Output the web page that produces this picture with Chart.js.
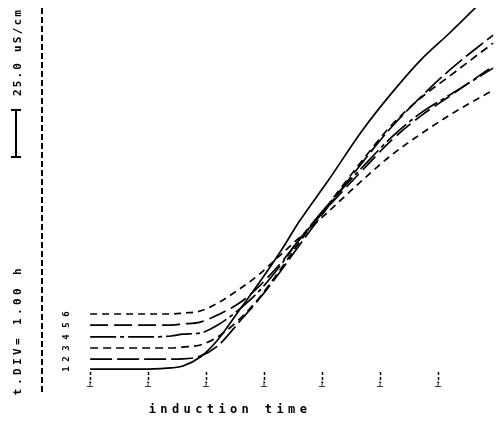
<!DOCTYPE html>
<html>
<head>
<meta charset="utf-8">
<script src="https://cdn.jsdelivr.net/npm/chart.js@4.4.0/dist/chart.umd.min.js"></script>
<style>
    html, body { margin: 0; padding: 0; background: #fff; }
</style>
</head>
<body>
<canvas id="inducao" width="500" height="422"></canvas>
<script>
// tempo em divisoes (1 div = 1.00 h), condutividade em uS/cm (relativa)
const tempos = [0, 1.0, 1.4, 1.6, 1.9, 2.2, 2.6, 2.9, 3.3, 3.6, 4.1, 4.7, 5.2, 5.7, 6.2, 6.95];
const curva1 = [13.8, 13.8, 14.4, 15.4, 20.2, 29.3, 46.3, 59.0, 77.1, 92.0, 113.8, 141.0, 160.6, 178.2, 192.6, 215.4];
const curva2 = [19.1, 19.1, 19.1, 19.2, 20.7, 26.1, 39.9, 50.5, 66.5, 79.3, 100.0, 123.9, 142.6, 158.5, 172.9, 191.5];
const curva3 = [25.0, 25.0, 25.0, 25.5, 26.6, 30.9, 41.0, 51.1, 67.6, 80.9, 101.1, 125.0, 143.6, 158.0, 169.7, 187.2];
const curva4 = [30.9, 30.9, 31.4, 32.4, 33.0, 37.2, 46.3, 54.8, 69.7, 82.4, 101.1, 121.3, 137.2, 150.0, 159.6, 173.9];
const curva5 = [37.2, 37.2, 37.2, 37.8, 38.8, 42.6, 49.5, 57.4, 70.7, 82.4, 100.0, 119.7, 135.6, 148.4, 159.0, 175.0];
const curva6 = [43.1, 43.1, 43.1, 43.6, 44.7, 48.9, 56.9, 63.8, 75.0, 83.5, 97.3, 114.4, 127.7, 138.8, 148.9, 162.2];
const rotulosCurvas = ['1', '2', '3', '4', '5', '6'];
const ticksTempo = [0, 1, 2, 3, 4, 5, 6];
const tempoMin = -0.83;
const tempoMax = 7.0;

const textoEixoX = 'induction time';
const textoDivisao = 't.DIV= 1.00 h';
const textoEscala = '25.0 uS/cm';
const escalaInicio = 126.6;
const escalaValor = 25;

const fonteMono = '"DejaVu Sans Mono", "Liberation Mono", monospace';
const tracos = [[], [22, 5], [8, 5], [26, 4, 4, 4], [18, 6], [7, 5]];

function montaDatasets() {
    let curvas = [curva1, curva2, curva3, curva4, curva5, curva6];
    let datasets = [];
    for (let i = 0; i < curvas.length; i++) {
        datasets.push({
            label: rotulosCurvas[i],
            data: tempos.map((t, k) => ({ x: t, y: curvas[i][k] })),
            borderColor: '#000',
            borderWidth: 1.7,
            borderDash: tracos[i],
            pointRadius: 0,
            cubicInterpolationMode: 'monotone',
            fill: false
        });
    }
    return datasets;
}

function textoGirado(ctx, texto, x, y, espaco) {
    ctx.save();
    ctx.translate(x, y);
    ctx.rotate(-Math.PI / 2);
    ctx.letterSpacing = espaco + 'px';
    ctx.fillText(texto, 0, 0);
    ctx.restore();
}

const anotacoes = {
    id: 'anotacoes',
    afterDraw(chart) {
        const ctx = chart.ctx;
        const y = chart.scales.y;
        ctx.save();
        ctx.fillStyle = '#000';
        ctx.strokeStyle = '#000';
        ctx.textAlign = 'center';
        ctx.textBaseline = 'middle';

        // barra de escala 25.0 uS/cm
        let yA = y.getPixelForValue(escalaInicio);
        let yB = y.getPixelForValue(escalaInicio + escalaValor);
        ctx.lineWidth = 2;
        ctx.beginPath();
        ctx.moveTo(16, yA); ctx.lineTo(16, yB);
        ctx.moveTo(11, yA); ctx.lineTo(21, yA);
        ctx.moveTo(11, yB); ctx.lineTo(21, yB);
        ctx.stroke();

        ctx.font = 'bold 11px ' + fonteMono;
        textoGirado(ctx, textoEscala, 18, 52, 2.2);
        textoGirado(ctx, textoDivisao, 18, 330, 3.4);

        // numeros das curvas
        ctx.font = 'bold 9px ' + fonteMono;
        let curvas = [curva1, curva2, curva3, curva4, curva5, curva6];
        for (let i = 0; i < curvas.length; i++) {
            textoGirado(ctx, rotulosCurvas[i], 67, y.getPixelForValue(curvas[i][0]), 0);
        }

        ctx.font = 'bold 12px ' + fonteMono;
        ctx.letterSpacing = '4.4px';
        ctx.fillText(textoEixoX, 230, 410);
        ctx.restore();
    }
};

var ctx = document.getElementById('inducao').getContext('2d');
window.grafico = new Chart(ctx, {
    type: 'line',
    data: { datasets: montaDatasets() },
    plugins: [anotacoes],
    options: {
        responsive: false,
        animation: false,
        layout: { padding: { left: 42, right: 4, top: 8, bottom: 27 } },
        plugins: { legend: { display: false }, title: { display: false }, tooltip: { enabled: false } },
        scales: {
            x: {
                type: 'linear',
                min: tempoMin,
                max: tempoMax,
                position: { y: 12.2 },
                afterBuildTicks: (scale) => { scale.ticks = ticksTempo.map(v => ({ value: v })); },
                border: { display: false },
                grid: {
                    drawOnChartArea: false,
                    drawTicks: true,
                    tickLength: 11,
                    tickColor: '#000',
                    tickWidth: 1.5,
                    tickBorderDash: [3, 2]
                },
                ticks: {
                    callback: () => '┴',
                    color: '#000',
                    font: { family: fonteMono, size: 10, weight: 'bold' },
                    padding: -2,
                    maxRotation: 0,
                    autoSkip: false
                }
            },
            // eixo auxiliar so para a linha tracejada vertical da esquerda
            xEixo: {
                type: 'linear',
                axis: 'x',
                min: tempoMin,
                max: tempoMax,
                position: { y: 0 },
                afterBuildTicks: (scale) => { scale.ticks = [{ value: tempoMin }]; },
                border: { display: false, dash: [6, 3] },
                grid: { drawOnChartArea: true, drawTicks: false, color: '#000', lineWidth: 2 },
                ticks: { display: false }
            },
            y: {
                type: 'linear',
                min: 0,
                max: 205.9,
                position: 'left',
                grid: { display: false, drawTicks: false },
                ticks: { display: false },
                border: { display: false }
            }
        }
    }
});
</script>
</body>
</html>
